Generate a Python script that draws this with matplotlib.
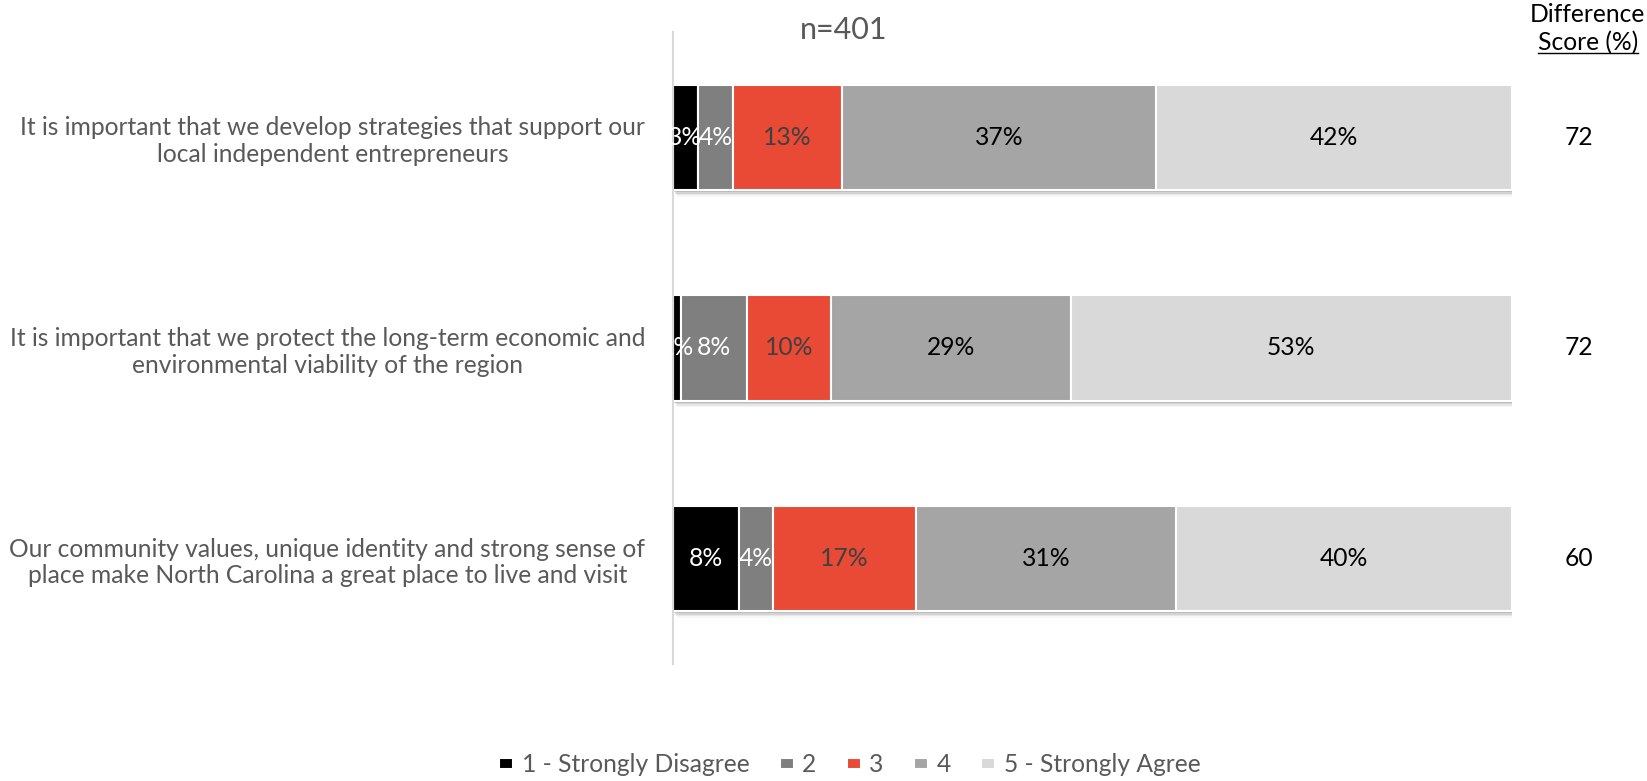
import matplotlib
matplotlib.use('Agg')
import matplotlib.pyplot as plt
import numpy as np

plt.rcParams['font.family'] = ['Lato', 'DejaVu Sans']

statements = [
    'It is important that we develop strategies that support our\nlocal independent entrepreneurs',
    'It is important that we protect the long-term economic and\nenvironmental viability of the region',
    'Our community values, unique identity and strong sense of\nplace make North Carolina a great place to live and visit',
]
levels = ['1 - Strongly Disagree', '2', '3', '4', '5 - Strongly Agree']

# percent of respondents per level, one list per level (rows follow statements)
level1 = [3.0, 0.9, 7.9]
level2 = [4.1, 7.9, 4.0]
level3 = [13.1, 10.0, 17.1]
level4 = [37.4, 28.6, 31.0]
level5 = [42.4, 52.6, 40.0]
diff_scores = [72, 72, 60]
n_resp = 401

colors = ['#000000', '#7f7f7f', '#e84a36', '#a5a5a5', '#d9d9d9']
text_colors = ['white', 'white', '#404040', 'black', 'black']
fs = 17.7

fig = plt.figure(figsize=(16.47, 7.81), dpi=100)
ax = fig.add_axes([0.4086, 0.150, 0.5095, 0.809])

y = np.arange(len(statements))
series = [level1, level2, level3, level4, level5]
totals = np.sum(series, axis=0)

# soft drop shadow under each row
for k, a in enumerate([0.22, 0.16, 0.10, 0.06]):
    ax.barh(y + 0.010 + 0.007 * k, totals, left=0.12 + 0.12 * k, height=0.5,
            color='#6a6a6a', alpha=a, linewidth=0, zorder=1)

left = np.zeros(len(statements))
for vals, name, col, tcol in zip(series, levels, colors, text_colors):
    vals = np.array(vals)
    ax.barh(y, vals, left=left, height=0.5, color=col, edgecolor='white',
            linewidth=1.5, label=name, zorder=2)
    for yi, (l, v) in enumerate(zip(left, vals)):
        ax.text(l + v / 2, yi, f'{v:.0f}%', ha='center', va='center',
                fontsize=fs, color=tcol, zorder=5)
    left += vals

ax.set_xlim(0, 100)
ax.set_ylim(2.5, -0.5)
ax.set_yticks(y)
ax.set_yticklabels(statements, fontsize=fs, color='#595959', multialignment='center')
ax.tick_params(axis='y', length=0, pad=20)
ax.set_xticks([])
for s in ['top', 'right', 'bottom']:
    ax.spines[s].set_visible(False)
ax.spines['left'].set_color('#d9d9d9')
ax.spines['left'].set_linewidth(1.5)

# difference score column
for yi, d in enumerate(diff_scores):
    ax.text(1.0 + 0.080, yi, str(d), transform=ax.get_yaxis_transform(),
            ha='center', va='center', fontsize=fs, color='black')
fig.text(0.964, 0.981, 'Difference', ha='center', va='center', fontsize=fs)
sc = fig.text(0.964, 0.945, 'Score (%)', ha='center', va='center', fontsize=fs)
fig.canvas.draw()
bb = sc.get_window_extent().transformed(fig.transFigure.inverted())
fig.add_artist(plt.Line2D([bb.x0, bb.x1], [bb.y0 + 0.002, bb.y0 + 0.002],
                          color='black', linewidth=1))

fig.text(0.512, 0.961, f'n={n_resp}', ha='center', va='center', fontsize=22, color='#595959')

fig.legend(loc='center', bbox_to_anchor=(0.516, 0.021), ncol=5, frameon=False,
           fontsize=fs, labelcolor='#595959', handlelength=0.55, handleheight=0.3,
           handletextpad=0.35, columnspacing=1.25)

fig.savefig('out.png', dpi=100)
